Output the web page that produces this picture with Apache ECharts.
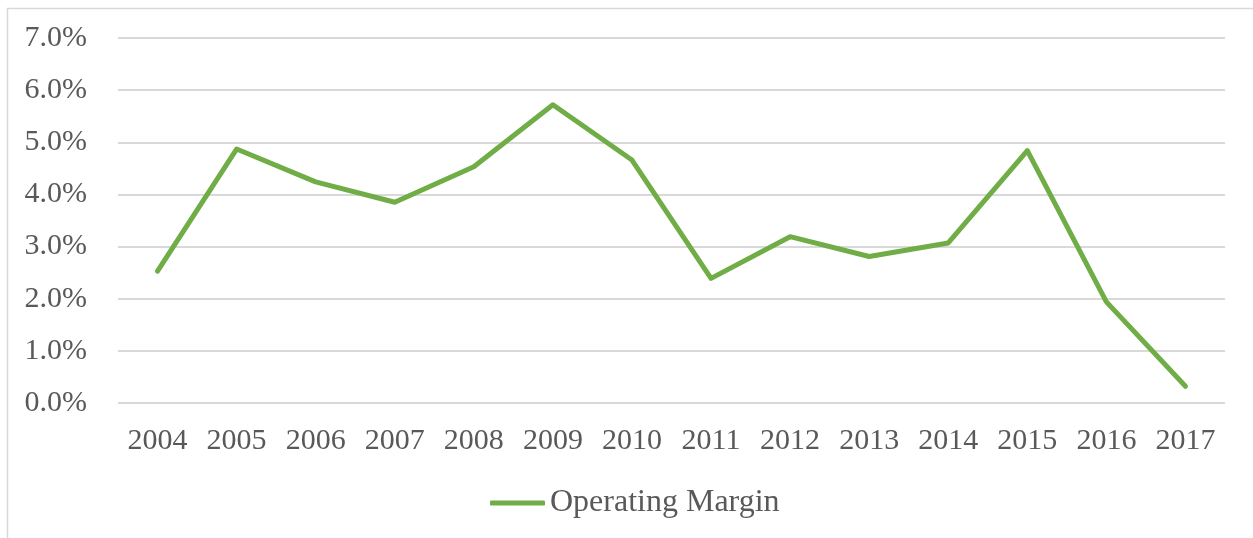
<!DOCTYPE html>
<html>
<head>
<meta charset="utf-8">
<script src="https://cdn.jsdelivr.net/npm/echarts@6/dist/echarts.min.js"></script>
<style>
html,body{margin:0;padding:0;background:#fff;}
#chart{width:1253px;height:538px;}
</style>
</head>
<body>
<div id="chart"></div>
<script>
var categories = ['2004','2005','2006','2007','2008','2009','2010','2011','2012','2013','2014','2015','2016','2017'];
var operatingMargin = [2.53, 4.87, 4.24, 3.85, 4.53, 5.72, 4.66, 2.39, 3.19, 2.81, 3.07, 4.84, 1.94, 0.32];
var seriesName = 'Operating Margin';
var yMin = 0, yMax = 7, yStep = 1;

var FONT = '"Liberation Serif", "Times New Roman", serif';
var TEXT = '#595959';
var GREEN = '#70ad47';

var chart = echarts.init(document.getElementById('chart'), null, {renderer: 'canvas'});
chart.setOption({
  animation: false,
  backgroundColor: '#ffffff',
  graphic: [{
    type: 'rect',
    shape: {x: 7.5, y: 8.5, width: 1400, height: 700},
    style: {fill: 'none', stroke: '#d9d9d9', lineWidth: 1.5},
    silent: true,
    z: -10
  }],
  grid: {left: 118, right: 28, top: 38, bottom: 135, containLabel: false},
  legend: {
    left: 485,
    top: 482,
    icon: 'roundRect',
    itemWidth: 55,
    itemHeight: 5,
    textStyle: {fontFamily: FONT, fontSize: 32, color: TEXT},
    data: [seriesName]
  },
  xAxis: {
    type: 'category',
    data: categories,
    boundaryGap: true,
    axisLine: {show: false},
    axisTick: {show: false},
    axisLabel: {fontFamily: FONT, fontSize: 30, color: TEXT, margin: 23}
  },
  yAxis: {
    type: 'value',
    min: yMin,
    max: yMax,
    interval: yStep,
    axisLine: {show: false},
    axisTick: {show: false},
    splitLine: {lineStyle: {color: '#d9d9d9', width: 2}},
    axisLabel: {
      fontFamily: FONT, fontSize: 30, color: TEXT, margin: 31,
      formatter: function (v) { return v.toFixed(1) + '%'; }
    }
  },
  series: [{
    name: seriesName,
    type: 'line',
    data: operatingMargin,
    symbol: 'none',
    lineStyle: {color: GREEN, width: 5, cap: 'round', join: 'round'},
    itemStyle: {color: GREEN}
  }]
});
</script>
</body>
</html>
